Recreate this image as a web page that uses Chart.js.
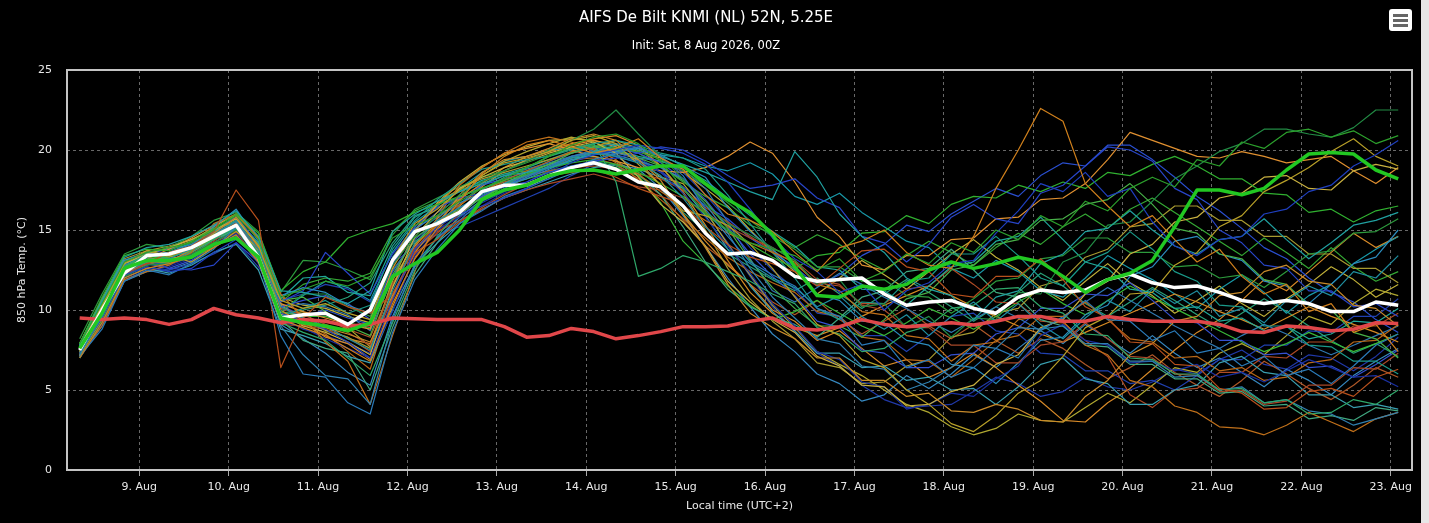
<!DOCTYPE html>
<html>
<head>
<meta charset="utf-8">
<script src="https://cdn.jsdelivr.net/npm/chart.js@4.4.1/dist/chart.umd.min.js"></script>
<style>
html, body { margin: 0; padding: 0; background: #000; overflow: hidden; }
#wrap { position: relative; width: 1429px; height: 523px; }
#strip { position: absolute; left: 1421px; top: 0; width: 8px; height: 523px; background: #e6e6e6; }
</style>
</head>
<body>
<div id="wrap">
  <canvas id="chart" width="1429" height="523"></canvas>
  <div id="strip"></div>
</div>
<script>
// =========================================
// Data (850 hPa temperature, 6-hourly, first step 8 Aug 08:00 local)
// =========================================

const startHour = 8;     // hours after 8 Aug 00:00 local
const stepHours = 6;

const dayLabels = ["9. Aug","10. Aug","11. Aug","12. Aug","13. Aug","14. Aug","15. Aug",
  "16. Aug","17. Aug","18. Aug","19. Aug","20. Aug","21. Aug","22. Aug","23. Aug"];
const dayTicks = [24,48,72,96,120,144,168,192,216,240,264,288,312,336,360];

const yTicks = [0,5,10,15,20,25];

// thick lines
const detRun = [
  7.6, 9.8, 12.6, 13.1, 13.1, 13.3, 14.1, 14.5, 13.3, 9.5, 9.2, 9.0, 8.7, 9.2, 12.1, 12.9,
  13.6, 15.0, 16.9, 17.5, 17.8, 18.4, 18.7, 18.75, 18.5, 18.75, 19.0, 19.0, 17.9, 16.9, 16.1, 14.7,
  12.7, 10.9, 10.8, 11.5, 11.3, 11.6, 12.5, 13.0, 12.6, 12.9, 13.3, 13.0, 12.1, 11.1, 11.9, 12.3,
  13.1, 15.2, 17.5, 17.5, 17.2, 17.6, 18.75, 19.75, 19.85, 19.75, 18.75, 18.2
];
const controlRun = [
  7.5, 10.0, 12.3, 13.4, 13.5, 13.9, 14.6, 15.3, 13.3, 9.5, 9.7, 9.8, 9.1, 10.0, 13.1, 14.9,
  15.4, 16.1, 17.4, 17.8, 17.8, 18.4, 18.9, 19.2, 18.8, 18.0, 17.7, 16.5, 14.8, 13.5, 13.6, 13.1,
  12.1, 11.8, 11.9, 12.0, 11.0, 10.3, 10.5, 10.6, 10.1, 9.8, 10.8, 11.25, 11.1, 11.25, 11.9, 12.25,
  11.7, 11.4, 11.5, 11.1, 10.6, 10.4, 10.6, 10.4, 9.9, 9.9, 10.5, 10.3
];
const climate = [
  9.5, 9.4, 9.5, 9.4, 9.1, 9.4, 10.1, 9.7, 9.5, 9.2, 9.4, 9.3, 9.0, 9.1, 9.5, 9.45,
  9.4, 9.4, 9.4, 8.96, 8.3, 8.4, 8.85, 8.65, 8.2, 8.4, 8.65, 8.96, 8.96, 9.0, 9.3, 9.5,
  8.85, 8.75, 8.96, 9.4, 9.1, 8.96, 9.06, 9.2, 9.06, 9.3, 9.6, 9.6, 9.3, 9.3, 9.6, 9.4,
  9.3, 9.3, 9.3, 9.1, 8.65, 8.6, 9.0, 8.9, 8.7, 8.8, 9.2, 9.15
];

// ensemble members
const m01 = [7.2, 9.6, 12.4, 13.0, 13.2, 13.8, 14.6, 15.6, 13.8, 10.2, 9.5, 9.0, 8.2, 7.5, 11.2, 14.2,
  15.6, 16.4, 17.2, 17.9, 18.4, 18.9, 19.5, 19.8, 19.6, 19.2, 18.4, 17.0, 15.2, 13.8, 12.9, 12.0,
  11.4, 10.2, 10.9, 9.6, 8.8, 9.7, 8.4, 9.6, 10.5, 9.3, 10.4, 9.1, 8.2, 9.5, 10.6, 9.9,
  11.3, 10.4, 11.2, 9.6, 10.1, 9.2, 10.6, 11.5, 10.9, 12.4, 12.0, 13.4];
const m02 = [7.9, 10.4, 13.0, 13.6, 13.9, 14.2, 15.0, 15.9, 14.4, 10.8, 11.3, 11.8, 11.5, 12.1, 14.5, 15.3,
  15.9, 16.8, 17.6, 18.2, 18.9, 19.6, 20.3, 20.8, 21.0, 20.4, 19.3, 17.6, 16.1, 15.0, 14.2, 13.8,
  13.4, 12.5, 13.2, 11.8, 12.4, 13.5, 12.9, 14.2, 13.6, 15.0, 14.4, 15.9, 15.2, 16.8, 16.2, 17.6,
  18.3, 17.7, 19.4, 19.0, 20.5, 20.1, 21.1, 21.3, 20.8, 21.2, 20.4, 20.9];
const m03 = [7.0, 9.2, 12.0, 12.6, 12.9, 13.3, 13.9, 14.7, 13.0, 9.4, 8.9, 8.4, 7.6, 6.8, 10.4, 13.2,
  15.1, 16.8, 18.5, 19.6, 20.3, 20.6, 20.2, 19.8, 20.1, 20.7, 19.5, 18.8, 17.2, 16.0, 15.6, 14.9,
  13.6, 12.4, 13.9, 14.3, 15.0, 13.6, 12.8, 12.6, 14.6, 17.6, 20.0, 22.6, 21.8, 17.9, 16.5, 15.2,
  15.9, 14.4, 13.0, 13.8, 12.1, 11.0, 11.6, 9.9, 10.4, 8.6, 9.1, 7.4];
const m04 = [7.3, 9.5, 12.2, 12.7, 12.4, 12.6, 13.6, 14.4, 13.2, 9.8, 9.3, 8.8, 8.0, 7.0, 10.6, 13.8,
  15.2, 16.0, 16.5, 17.0, 17.6, 18.4, 19.2, 19.7, 20.0, 20.3, 20.1, 19.8, 19.1, 18.0, 16.3, 14.5,
  13.2, 12.4, 11.1, 11.6, 10.0, 11.2, 11.7, 12.9, 13.1, 14.8, 16.2, 17.9, 17.4, 18.6, 17.1, 17.6,
  15.5, 14.0, 13.4, 14.4, 14.6, 16.0, 16.3, 17.4, 17.8, 19.0, 19.7, 20.6];
const m05 = [7.1, 8.8, 11.8, 12.5, 12.2, 12.9, 13.8, 15.2, 13.1, 8.4, 6.0, 5.8, 4.2, 3.5, 8.6, 11.9,
  13.8, 15.4, 16.2, 17.1, 17.6, 18.2, 18.8, 19.4, 19.8, 20.2, 19.6, 18.4, 16.3, 14.6, 13.0, 12.2,
  11.5, 10.1, 9.6, 7.8, 8.1, 6.4, 6.9, 5.8, 6.4, 7.6, 7.0, 8.8, 9.5, 10.6, 9.4, 9.3,
  8.1, 8.7, 7.3, 7.6, 6.5, 7.1, 5.9, 6.3, 5.4, 6.5, 7.8, 8.5];
const m06 = [7.4, 10.2, 12.9, 13.7, 13.4, 13.0, 13.9, 14.9, 13.9, 10.6, 10.1, 10.4, 9.8, 9.4, 13.2, 15.4,
  16.3, 17.5, 18.4, 19.2, 19.5, 19.9, 20.6, 20.9, 20.4, 19.1, 17.8, 16.2, 15.9, 15.3, 14.1, 12.6,
  10.8, 9.1, 8.4, 6.9, 6.4, 5.0, 4.1, 2.9, 2.4, 3.4, 4.8, 5.6, 7.1, 8.9, 9.6, 11.0,
  11.1, 12.8, 13.6, 15.2, 15.9, 17.4, 18.1, 18.9, 19.9, 20.7, 19.6, 19.0];
const m07 = [7.6, 10.1, 12.5, 12.9, 13.6, 14.0, 14.9, 17.5, 15.6, 6.4, 9.5, 10.8, 10.2, 9.8, 11.0, 13.6,
  14.4, 15.5, 16.4, 17.2, 17.9, 18.4, 18.6, 18.8, 18.3, 17.6, 17.1, 16.6, 15.2, 14.1, 13.3, 12.9,
  12.4, 11.5, 12.6, 13.7, 13.8, 12.7, 12.4, 11.0, 10.8, 12.1, 12.1, 13.2, 11.9, 10.2, 9.5, 8.0,
  7.9, 6.6, 6.5, 5.1, 4.8, 3.8, 3.9, 4.9, 5.1, 4.6, 5.8, 6.3];
const m08 = [7.8, 10.6, 13.3, 13.9, 14.1, 14.6, 15.3, 16.2, 14.6, 11.2, 11.1, 10.8, 10.4, 11.2, 14.9, 16.0,
  16.8, 17.4, 17.9, 18.4, 18.6, 18.9, 19.3, 19.9, 20.3, 20.0, 19.6, 19.1, 18.6, 18.0, 17.4, 16.9,
  19.9, 18.3, 16.0, 14.6, 13.6, 12.0, 11.3, 10.9, 9.4, 10.8, 11.2, 12.9, 13.5, 14.9, 15.1, 16.2,
  15.0, 14.0, 13.5, 14.4, 14.6, 15.7, 14.4, 13.2, 14.2, 15.3, 15.6, 16.1];
const m09 = [7.0, 9.3, 12.1, 12.8, 12.9, 13.5, 14.2, 15.0, 13.4, 9.9, 11.0, 11.0, 10.2, 9.6, 12.8, 14.6,
  15.9, 17.2, 18.0, 18.7, 19.3, 20.0, 20.6, 21.3, 22.5, 21.0, 19.6, 18.2, 16.6, 15.4, 14.7, 13.9,
  13.1, 11.6, 11.9, 10.2, 10.4, 8.9, 9.6, 8.3, 9.5, 9.4, 11.1, 11.0, 13.0, 13.6, 15.3, 15.5,
  16.8, 18.2, 19.0, 19.9, 20.4, 21.3, 21.3, 21.0, 20.8, 21.4, 22.5, 22.5];
const m10 = [7.3, 9.9, 12.7, 13.5, 13.2, 13.4, 14.4, 15.2, 13.6, 9.2, 8.6, 8.1, 7.0, 5.9, 9.2, 12.5,
  14.6, 16.2, 17.5, 18.3, 18.9, 19.6, 20.1, 20.4, 18.0, 12.1, 12.6, 13.4, 13.0, 12.4, 11.8, 11.0,
  10.4, 8.9, 8.5, 7.4, 7.6, 8.6, 9.0, 10.1, 10.3, 11.3, 11.4, 10.2, 9.8, 8.5, 8.4, 7.0,
  6.9, 6.0, 6.0, 5.0, 5.1, 4.2, 4.4, 3.5, 3.6, 4.4, 4.1, 5.0];
const m11 = [7.1, 9.4, 12.3, 13.0, 13.0, 13.8, 14.8, 15.8, 14.0, 10.0, 9.1, 8.9, 8.5, 8.0, 10.9, 13.6,
  15.3, 17.2, 18.6, 19.4, 19.6, 20.1, 20.7, 21.0, 20.6, 19.4, 18.1, 16.0, 13.9, 11.6, 9.8, 8.9,
  8.2, 7.0, 7.0, 5.6, 5.6, 4.6, 4.8, 3.7, 3.6, 4.1, 3.8, 3.1, 3.0, 4.6, 5.6, 7.2,
  7.9, 9.3, 9.6, 10.9, 11.1, 12.4, 12.8, 11.8, 11.6, 10.3, 10.1, 9.0];
const m12 = [7.5, 9.7, 12.4, 13.2, 12.6, 12.5, 12.8, 14.2, 13.0, 10.5, 11.2, 13.6, 12.3, 11.0, 13.5, 15.2,
  16.4, 17.0, 17.3, 17.7, 18.0, 18.6, 19.0, 19.3, 19.5, 19.8, 20.2, 20.0, 19.3, 18.4, 17.6, 17.8,
  18.2, 17.0, 16.4, 14.6, 14.2, 13.0, 14.1, 15.8, 16.6, 15.7, 15.4, 17.3, 17.8, 19.0, 20.2, 20.0,
  19.3, 17.6, 16.9, 15.0, 14.2, 12.8, 12.6, 11.2, 11.2, 10.2, 10.4, 9.6];
const m13 = [7.6, 10.0, 12.8, 13.4, 13.6, 14.1, 14.8, 15.5, 13.6, 9.0, 7.2, 5.9, 5.7, 4.1, 9.4, 12.9,
  14.5, 15.6, 16.8, 17.6, 18.3, 19.0, 19.6, 19.9, 19.7, 19.3, 18.9, 18.2, 16.6, 14.8, 12.6, 10.8,
  9.5, 8.2, 7.9, 6.5, 6.3, 5.0, 5.5, 6.4, 7.8, 7.6, 8.9, 8.8, 9.0, 7.9, 7.9, 6.8,
  6.8, 5.8, 5.9, 5.0, 5.2, 4.2, 4.4, 3.7, 3.5, 2.8, 3.2, 3.6];
const m14 = [7.9, 10.8, 13.4, 13.8, 13.7, 14.3, 15.1, 16.0, 14.8, 11.2, 12.4, 13.0, 14.5, 15.0, 15.4, 16.1,
  16.6, 17.1, 17.6, 18.1, 18.5, 18.9, 19.2, 19.4, 19.1, 18.6, 17.9, 17.1, 16.0, 14.9, 14.1, 13.3,
  12.6, 13.4, 13.6, 14.8, 14.9, 15.9, 15.4, 16.6, 17.1, 17.0, 17.8, 17.4, 18.0, 17.6, 18.6, 18.4,
  19.1, 19.6, 19.0, 18.2, 18.2, 17.3, 17.2, 16.1, 16.3, 15.5, 16.2, 16.5];
const m15 = [7.2, 9.0, 11.9, 12.4, 12.8, 13.6, 15.4, 16.0, 14.5, 11.0, 9.5, 8.0, 6.8, 4.1, 8.4, 12.4,
  15.8, 17.8, 18.9, 19.8, 20.5, 20.8, 20.5, 20.0, 19.2, 18.5, 17.4, 16.5, 15.6, 14.8, 14.2, 13.6,
  13.0, 11.6, 11.2, 9.9, 9.7, 8.4, 8.2, 6.8, 7.8, 8.0, 9.4, 9.6, 9.3, 7.8, 7.2, 5.6,
  5.2, 4.0, 3.6, 2.7, 2.6, 2.2, 2.8, 3.6, 3.0, 2.4, 3.2, 3.6];
const m16 = [7.4, 9.8, 12.6, 13.3, 13.5, 14.0, 14.5, 15.1, 13.2, 9.6, 10.1, 10.6, 9.8, 10.3, 13.8, 15.6,
  16.9, 17.9, 18.8, 19.1, 19.4, 19.6, 20.0, 20.4, 20.6, 20.3, 19.8, 19.5, 18.8, 17.2, 15.4, 13.6,
  12.0, 10.1, 9.4, 10.5, 10.4, 11.8, 12.0, 13.5, 13.5, 14.6, 13.4, 12.0, 11.5, 13.0, 13.6, 14.9,
  13.8, 12.4, 11.8, 10.3, 10.2, 9.0, 9.0, 7.8, 7.7, 6.8, 6.8, 6.0];
const m17 = [7.7, 10.3, 12.9, 13.5, 13.9, 14.4, 15.0, 15.7, 14.0, 9.8, 9.0, 8.6, 8.0, 7.2, 11.4, 14.6,
  16.1, 17.6, 18.3, 18.9, 19.3, 19.8, 20.2, 20.5, 19.8, 18.3, 16.6, 15.5, 14.0, 11.8, 10.5, 9.4,
  8.6, 7.1, 6.5, 5.3, 5.2, 4.0, 4.1, 4.9, 5.3, 6.6, 7.2, 8.9, 9.4, 11.0, 11.8, 13.5,
  14.1, 15.5, 15.8, 17.0, 17.3, 18.3, 18.4, 17.6, 17.5, 18.7, 19.1, 18.8];
const m18 = [7.0, 9.1, 11.9, 12.5, 12.7, 13.2, 14.0, 14.8, 12.9, 9.3, 8.9, 8.2, 7.6, 7.0, 9.9, 13.4,
  15.0, 15.8, 16.5, 17.3, 17.8, 18.2, 18.9, 19.3, 19.5, 19.3, 18.6, 17.3, 15.8, 14.0, 12.3, 10.4,
  9.0, 7.4, 6.9, 5.5, 5.2, 3.8, 4.1, 4.8, 4.6, 5.7, 6.5, 8.4, 9.1, 8.1, 7.8, 6.7,
  6.8, 6.2, 6.6, 5.8, 6.1, 5.5, 6.2, 6.9, 6.4, 5.8, 5.9, 5.2];
const m19 = [7.5, 10.1, 12.8, 13.1, 13.3, 13.7, 14.7, 15.6, 14.1, 10.6, 10.8, 9.9, 9.0, 8.4, 12.2, 14.5,
  15.5, 16.3, 17.0, 17.8, 18.5, 19.1, 19.8, 20.2, 20.0, 19.5, 19.0, 18.1, 16.8, 15.1, 13.1, 11.4,
  10.1, 9.0, 9.0, 8.3, 9.4, 10.7, 11.1, 12.5, 12.8, 14.1, 14.4, 15.6, 15.7, 16.6, 16.9, 17.9,
  16.6, 15.1, 14.8, 13.5, 13.2, 11.9, 11.6, 10.3, 10.0, 8.6, 8.2, 7.0];
const m20 = [7.3, 9.6, 12.2, 12.9, 13.1, 13.5, 14.3, 15.4, 13.9, 10.1, 9.7, 9.1, 8.6, 7.8, 11.6, 13.9,
  14.9, 15.6, 16.3, 17.0, 17.5, 17.9, 18.2, 18.5, 18.1, 17.7, 17.5, 17.0, 16.1, 15.2, 14.5, 13.9,
  13.1, 11.9, 11.6, 10.3, 10.0, 8.9, 8.9, 7.8, 7.8, 6.7, 6.7, 7.8, 8.0, 9.2, 8.2, 7.1,
  7.0, 6.0, 5.9, 4.9, 5.0, 4.1, 4.3, 5.3, 5.3, 6.4, 6.3, 7.3];
const m21 = [7.8, 10.5, 13.1, 13.6, 13.5, 14.0, 15.2, 16.3, 14.3, 10.9, 11.4, 11.1, 10.3, 9.8, 13.3, 15.1,
  15.9, 16.7, 17.3, 17.8, 18.2, 18.8, 19.4, 19.7, 19.9, 20.1, 19.7, 19.0, 18.3, 16.4, 14.9, 13.8,
  12.5, 11.0, 10.6, 9.3, 9.2, 8.1, 7.8, 6.6, 6.4, 5.4, 6.7, 8.1, 8.3, 9.7, 10.3, 12.1,
  12.7, 14.3, 14.6, 13.5, 13.1, 11.8, 11.5, 10.4, 11.6, 12.9, 13.3, 15.0];
const m22 = [7.6, 10.2, 12.6, 13.2, 13.8, 14.5, 15.3, 15.9, 14.6, 10.4, 9.9, 9.5, 9.1, 8.8, 12.6, 15.0,
  16.6, 17.9, 18.9, 19.8, 20.1, 20.4, 20.0, 19.6, 19.3, 18.9, 18.7, 18.6, 18.9, 19.6, 20.5, 19.8,
  18.0, 15.8, 14.6, 12.8, 12.5, 13.4, 13.4, 14.4, 14.5, 15.7, 15.8, 16.9, 17.0, 17.9, 19.4, 21.1,
  20.6, 20.1, 19.6, 19.5, 19.9, 19.6, 19.2, 19.4, 19.6, 18.7, 17.9, 18.9];
const m23 = [7.1, 9.3, 12.0, 12.6, 12.3, 12.8, 13.6, 14.1, 12.5, 8.8, 8.4, 7.9, 7.1, 6.7, 10.0, 12.8,
  14.2, 15.4, 16.3, 17.0, 17.5, 18.0, 18.5, 18.9, 19.1, 18.8, 18.3, 17.6, 15.9, 13.8, 11.5, 9.9,
  8.7, 7.3, 7.3, 6.4, 6.5, 5.6, 5.8, 5.0, 5.1, 4.1, 5.2, 6.6, 7.0, 5.7, 5.4, 4.1,
  4.1, 5.0, 5.3, 6.7, 7.1, 6.1, 5.9, 4.7, 4.7, 3.9, 4.1, 3.8];
const m24 = [8.2, 11.0, 13.5, 14.1, 13.9, 14.6, 15.6, 16.1, 14.9, 11.1, 13.1, 13.0, 12.5, 11.9, 14.7, 16.3,
  17.0, 17.7, 18.3, 18.7, 19.2, 19.7, 20.1, 20.3, 20.1, 19.9, 19.4, 18.7, 17.8, 16.7, 15.6, 14.6,
  13.8, 12.7, 12.7, 11.8, 11.9, 10.9, 10.8, 9.8, 10.7, 11.8, 12.0, 13.2, 13.4, 14.5, 14.5, 13.6,
  13.6, 12.7, 12.8, 12.0, 12.2, 11.4, 12.4, 13.5, 13.7, 14.8, 14.9, 15.7];
const m25 = [7.4, 9.9, 12.5, 13.0, 13.3, 13.9, 14.6, 15.3, 13.8, 9.7, 9.2, 8.5, 7.4, 6.3, 10.7, 13.8,
  15.4, 16.6, 17.4, 18.1, 18.7, 19.3, 19.9, 20.1, 19.4, 18.1, 16.9, 15.7, 14.5, 13.3, 12.4, 11.7,
  11.1, 9.9, 9.6, 8.3, 8.1, 6.9, 6.8, 5.8, 6.9, 8.1, 8.4, 9.6, 9.6, 10.5, 9.4, 8.2,
  8.0, 7.0, 7.1, 6.2, 6.4, 5.6, 5.8, 6.7, 6.9, 8.0, 8.1, 9.1];
const m26 = [7.2, 9.5, 12.3, 12.9, 12.6, 13.1, 14.0, 14.6, 13.1, 10.2, 10.6, 10.9, 10.4, 9.4, 12.4, 14.4,
  15.6, 16.4, 17.1, 17.8, 18.3, 18.9, 19.6, 19.8, 20.1, 19.8, 19.2, 18.2, 16.9, 15.2, 13.5, 12.1,
  10.9, 9.3, 8.9, 7.5, 7.3, 6.4, 6.4, 7.2, 7.3, 8.5, 8.9, 10.1, 10.1, 11.0, 10.9, 11.7,
  10.6, 9.4, 9.2, 8.1, 8.1, 7.2, 7.3, 6.4, 6.5, 5.8, 6.6, 7.5];
const m27 = [7.9, 10.7, 13.2, 13.7, 14.0, 14.4, 15.1, 15.5, 13.9, 10.3, 9.4, 8.7, 8.3, 7.6, 11.8, 14.9,
  16.6, 17.6, 18.2, 18.6, 19.0, 19.4, 19.8, 20.2, 20.6, 20.1, 19.0, 17.3, 15.0, 12.6, 10.7, 9.3,
  8.2, 6.7, 6.4, 5.4, 5.5, 6.5, 6.9, 8.3, 8.6, 9.8, 10.1, 11.5, 11.9, 13.3, 13.8, 15.2,
  15.4, 16.5, 16.5, 15.6, 15.6, 14.6, 14.6, 13.5, 13.5, 12.6, 12.6, 11.7];
const m28 = [7.0, 9.2, 12.2, 12.9, 13.0, 13.6, 14.4, 15.0, 13.3, 9.4, 8.1, 7.6, 7.3, 5.0, 8.9, 12.2,
  14.2, 15.9, 17.1, 17.9, 18.6, 19.1, 19.5, 19.6, 19.3, 18.5, 17.2, 15.2, 13.0, 11.3, 10.2, 9.5,
  9.1, 8.3, 9.5, 10.8, 11.2, 12.4, 12.6, 13.8, 12.5, 11.1, 10.8, 9.4, 9.0, 7.8, 7.7, 6.6,
  6.6, 5.7, 5.7, 4.8, 4.9, 4.0, 4.1, 3.2, 3.4, 3.1, 3.9, 3.7];
const m29 = [7.6, 10.3, 12.9, 13.4, 13.6, 14.2, 14.9, 15.6, 14.2, 10.7, 12.0, 12.1, 11.1, 10.9, 14.0, 15.8,
  16.6, 17.4, 18.1, 18.5, 18.9, 19.4, 19.9, 20.3, 20.0, 19.6, 19.3, 18.9, 18.1, 17.0, 15.9, 14.9,
  14.0, 12.7, 12.5, 11.3, 11.2, 10.3, 11.5, 12.7, 13.0, 14.3, 14.6, 15.8, 14.4, 13.0, 12.6, 11.3,
  11.1, 10.1, 10.2, 9.3, 9.5, 8.7, 9.0, 8.2, 8.5, 9.3, 9.2, 10.1];
const m30 = [7.3, 9.7, 12.5, 13.1, 13.2, 13.5, 14.2, 14.9, 13.0, 9.1, 9.0, 8.8, 8.3, 7.4, 10.8, 13.5,
  14.8, 16.0, 17.1, 17.9, 18.4, 18.7, 18.9, 19.0, 18.8, 18.5, 18.2, 17.5, 16.4, 15.5, 14.6, 13.7,
  12.9, 11.7, 11.5, 10.4, 10.4, 11.3, 11.5, 12.6, 11.6, 10.5, 10.4, 9.3, 9.2, 8.1, 7.1, 4.7,
  3.9, 5.0, 5.1, 6.1, 6.1, 7.1, 7.0, 8.0, 8.0, 9.0, 9.0, 9.8];
const m31 = [7.7, 10.4, 12.8, 13.3, 13.4, 13.9, 14.4, 15.1, 13.4, 9.9, 9.6, 9.6, 9.2, 8.9, 12.5, 14.3,
  15.2, 16.1, 17.0, 17.7, 18.2, 18.6, 19.0, 19.2, 18.9, 18.4, 16.7, 14.3, 12.9, 11.5, 10.3, 9.4,
  9.9, 10.6, 9.8, 9.0, 8.4, 9.2, 10.1, 9.5, 8.8, 9.6, 10.5, 11.3, 10.4, 9.7, 10.6, 11.5,
  10.8, 10.1, 9.4, 8.7, 8.0, 7.4, 7.9, 8.6, 8.0, 7.4, 7.9, 8.5];
const m32 = [7.4, 9.9, 12.7, 13.2, 13.1, 13.6, 14.9, 15.9, 14.0, 10.1, 10.4, 10.2, 9.7, 8.7, 12.0, 14.8,
  15.8, 16.6, 17.8, 18.4, 18.8, 19.2, 19.6, 20.0, 19.8, 19.5, 19.3, 18.8, 17.6, 15.5, 13.2, 11.2,
  10.5, 11.4, 12.3, 11.6, 10.8, 10.1, 9.3, 8.6, 9.4, 10.2, 9.5, 8.7, 9.6, 10.5, 11.4, 10.6,
  9.8, 9.0, 8.3, 7.6, 8.4, 9.1, 8.5, 7.8, 7.2, 7.8, 8.4, 9.0];
const m33 = [7.5, 10.0, 12.4, 12.8, 13.3, 13.9, 14.7, 15.5, 13.7, 9.8, 9.3, 9.0, 8.2, 7.9, 11.6, 14.0,
  15.5, 16.9, 17.9, 18.9, 19.6, 20.0, 20.4, 20.7, 20.9, 20.3, 19.0, 17.4, 15.3, 13.1, 11.1, 9.8,
  8.9, 8.4, 8.9, 9.6, 10.3, 10.9, 11.5, 10.9, 10.2, 9.6, 9.0, 8.5, 8.0, 8.6, 9.2, 9.8,
  10.4, 11.0, 10.5, 9.9, 9.4, 8.8, 9.5, 10.2, 9.6, 9.1, 8.6, 8.0];
const m34 = [7.1, 9.4, 12.1, 12.7, 12.5, 12.9, 13.5, 14.2, 12.7, 10.6, 11.0, 11.6, 11.3, 10.5, 12.9, 14.0,
  14.7, 15.2, 15.8, 16.4, 17.0, 17.6, 18.4, 19.1, 19.9, 20.2, 19.6, 18.6, 17.2, 15.6, 13.9, 12.5,
  11.3, 9.8, 9.6, 8.4, 8.4, 7.4, 8.4, 9.6, 9.8, 8.7, 8.5, 7.3, 7.2, 6.2, 6.2, 5.4,
  5.6, 5.0, 5.9, 6.9, 6.9, 7.8, 7.8, 8.7, 8.6, 9.6, 9.6, 10.7];
const m35 = [7.5, 10.1, 12.7, 13.3, 13.0, 13.7, 14.5, 15.4, 13.9, 9.7, 9.9, 8.7, 8.9, 7.7, 11.9, 14.1,
  15.7, 17.0, 18.4, 19.3, 19.9, 20.4, 20.8, 20.5, 19.9, 19.4, 18.3, 17.9, 16.2, 14.1, 12.2, 10.3,
  8.9, 7.4, 6.6, 5.9, 5.0, 4.1, 3.6, 2.7, 2.2, 2.6, 3.5, 3.1, 3.0, 3.9, 4.8, 4.2,
  5.3, 6.4, 6.1, 7.3, 7.9, 7.2, 8.4, 9.6, 9.1, 10.4, 11.3, 10.9];
const m36 = [7.3, 9.8, 12.6, 13.0, 12.9, 13.4, 14.2, 15.1, 13.5, 9.9, 10.9, 11.8, 11.4, 10.6, 13.6, 15.5,
  16.5, 17.6, 18.6, 19.3, 19.6, 20.0, 20.1, 20.2, 20.4, 20.1, 19.7, 19.5, 19.0, 18.7, 19.2, 18.5,
  17.1, 16.6, 17.3, 16.1, 15.2, 14.3, 13.9, 12.6, 12.0, 13.1, 12.4, 11.2, 10.8, 12.0, 13.4, 12.6,
  11.9, 11.0, 10.1, 11.3, 12.2, 11.1, 9.8, 10.9, 11.6, 12.9, 13.8, 14.6];
const m37 = [7.8, 10.4, 12.9, 13.5, 13.8, 14.1, 15.0, 15.8, 14.2, 10.3, 9.6, 10.0, 9.5, 9.1, 12.8, 15.0,
  16.1, 17.0, 17.8, 18.2, 18.6, 19.3, 19.8, 20.1, 20.0, 19.4, 18.6, 17.7, 16.5, 15.7, 14.5, 13.6,
  12.7, 11.5, 12.2, 13.4, 14.1, 15.3, 14.9, 16.0, 16.8, 17.6, 17.1, 18.4, 19.2, 19.0, 20.3, 20.3,
  19.4, 18.3, 17.1, 16.2, 15.1, 13.9, 13.2, 12.0, 11.1, 10.5, 9.4, 8.6];
const m38 = [7.2, 9.5, 12.2, 12.9, 13.4, 13.8, 14.9, 15.7, 14.1, 10.4, 9.3, 8.3, 7.9, 6.9, 10.2, 13.3,
  15.0, 16.5, 17.7, 18.7, 19.4, 19.9, 20.3, 20.6, 20.2, 19.3, 17.8, 16.0, 14.3, 12.8, 11.6, 10.0,
  9.3, 8.1, 8.7, 7.6, 6.5, 6.9, 5.8, 6.4, 7.3, 6.4, 5.3, 4.3, 3.1, 3.0, 4.2, 5.1,
  6.3, 7.5, 8.6, 9.4, 10.6, 11.9, 11.2, 12.4, 13.6, 14.8, 13.9, 14.6];
const m39 = [7.6, 10.0, 12.6, 13.2, 13.4, 13.7, 14.4, 15.3, 13.7, 10.5, 11.6, 12.0, 11.8, 12.3, 14.9, 16.2,
  16.8, 17.5, 18.0, 18.5, 18.7, 19.1, 19.5, 19.9, 20.2, 19.8, 19.0, 18.0, 17.1, 16.4, 15.3, 14.8,
  13.9, 14.7, 14.1, 13.2, 12.5, 13.4, 14.3, 13.6, 12.8, 13.9, 14.8, 14.1, 15.2, 16.0, 15.1, 16.3,
  17.0, 16.1, 15.2, 14.3, 13.4, 14.5, 13.6, 12.6, 13.9, 12.7, 11.8, 12.4];
const m40 = [7.4, 9.8, 12.3, 13.0, 13.1, 13.6, 14.4, 15.0, 13.5, 10.0, 9.0, 9.4, 8.8, 8.3, 11.5, 13.8,
  15.2, 16.3, 17.3, 18.0, 18.4, 18.9, 19.4, 19.5, 19.1, 18.2, 17.2, 15.6, 14.0, 12.9, 11.6, 10.5,
  9.7, 10.6, 9.4, 8.5, 9.3, 10.1, 9.0, 8.2, 9.1, 8.1, 7.3, 8.2, 7.6, 6.6, 5.7, 6.4,
  7.2, 6.1, 5.3, 4.6, 5.6, 6.8, 6.0, 5.1, 4.4, 5.3, 6.4, 5.8];
const m41 = [7.0, 9.0, 11.8, 12.4, 12.5, 13.0, 13.9, 14.7, 13.0, 9.1, 8.2, 7.3, 6.1, 5.3, 9.6, 12.7,
  14.5, 15.8, 16.9, 17.8, 18.4, 19.0, 19.5, 19.9, 19.6, 18.8, 17.6, 15.9, 14.0, 12.0, 10.2, 8.5,
  7.4, 6.0, 5.4, 4.3, 4.7, 5.9, 5.1, 6.0, 7.2, 6.4, 7.6, 8.7, 7.9, 9.1, 8.2, 7.3,
  8.4, 7.3, 6.4, 7.0, 6.1, 5.2, 6.3, 5.6, 4.7, 5.9, 6.8, 7.6];
const m42 = [7.7, 10.5, 13.0, 13.6, 13.8, 14.3, 15.2, 16.0, 14.5, 10.8, 10.3, 10.1, 9.6, 9.2, 13.0, 15.2,
  16.7, 18.0, 19.0, 19.7, 20.2, 20.6, 20.7, 20.6, 20.3, 19.9, 19.5, 18.6, 17.6, 16.5, 15.0, 13.6,
  12.4, 11.0, 12.0, 13.1, 12.2, 11.3, 12.4, 13.5, 14.4, 13.3, 12.5, 11.4, 10.6, 11.8, 12.9, 11.7,
  10.9, 9.8, 10.6, 11.5, 10.4, 9.6, 10.7, 11.6, 12.7, 11.9, 10.8, 11.6];
const m43 = [7.9, 10.6, 13.1, 13.5, 13.4, 14.0, 14.7, 15.3, 13.6, 9.8, 10.0, 10.3, 10.8, 11.7, 14.2, 15.9,
  16.4, 17.1, 17.6, 18.0, 18.4, 18.7, 19.0, 19.3, 19.0, 18.4, 17.6, 16.1, 14.9, 13.5, 12.7, 11.9,
  11.2, 12.0, 11.0, 10.1, 11.0, 11.9, 11.1, 10.2, 9.3, 10.2, 11.1, 12.3, 11.5, 10.4, 9.6, 10.5,
  11.4, 10.6, 9.7, 8.9, 9.8, 10.7, 9.9, 9.0, 8.1, 7.3, 7.9, 7.1];
const m44 = [7.5, 9.9, 12.5, 13.1, 12.8, 13.3, 14.1, 14.8, 13.2, 9.6, 8.8, 8.4, 7.9, 7.3, 11.0, 13.7,
  15.0, 15.9, 16.7, 17.4, 18.0, 18.7, 19.3, 19.8, 19.9, 19.5, 18.7, 17.6, 16.1, 14.2, 12.1, 10.2,
  8.6, 7.3, 6.5, 5.3, 4.4, 3.9, 4.0, 4.1, 4.9, 5.8, 5.4, 4.6, 4.9, 5.8, 5.2, 5.0,
  5.5, 6.3, 6.0, 6.9, 7.5, 6.6, 6.3, 7.2, 7.0, 6.2, 7.1, 8.3];

const members = [m01,m02,m03,m04,m05,m06,m07,m08,m09,m10,m11,m12,m13,m14,m15,m16,m17,m18,m19,m20,m21,m22,
  m23,m24,m25,m26,m27,m28,m29,m30,m31,m32,m33,m34,m35,m36,m37,m38,m39,m40,m41,m42,m43,m44];

const memberColors = ["#1f8fa0","#2ca02c","#d0801c","#1f3fbf","#2a7ab8","#b8a028","#b8501c","#20a0a0",
  "#228b44","#2fa86a","#c88a2a","#2845c8","#3080b0","#30b030","#c0701a","#1a9a8a","#c8b040",
  "#1a30a0","#48b048","#a84828","#2b8cbe","#e09030","#3a9fb0","#2c9a3c","#b86818","#3550d0",
  "#a89a30","#40a880","#20a898","#b04a24","#38b838","#2f78b0","#d68a22","#2040b0",
  "#b0a830","#1898a8","#2a4fd0","#d88a28","#34a834","#b05828","#3688c0","#c0b038","#28a078","#2038a8"];

// =========================================
// Helpers
// =========================================

const fontFamily = "'DejaVu Sans', sans-serif";
const textColor = "#e8e8e8";
const gridColor = "rgba(190,190,190,0.55)";

function toPoints(values){
  return values.map((v, i) => ({x: startHour + i * stepHours, y: v}));
}

// plot frame + export menu button
const frameAndMenu = {
  id: "frameAndMenu",
  beforeDatasetsDraw(chart){
    const {ctx, chartArea: a} = chart;
    ctx.save();
    ctx.strokeStyle = "#c4c4c4";
    ctx.lineWidth = 2;
    ctx.strokeRect(a.left, a.top, a.right - a.left, a.bottom - a.top);
    ctx.restore();
  },
  afterDraw(chart){
    const ctx = chart.ctx;
    ctx.save();
    ctx.fillStyle = "#ffffff";
    ctx.beginPath();
    ctx.roundRect(1389, 9, 23, 22, 3);
    ctx.fill();
    ctx.fillStyle = "#666666";
    [14, 19, 24].forEach(y => ctx.fillRect(1393, y, 15, 3));
    ctx.restore();
  }
};

// =========================================
// Chart
// =========================================

const datasets = [
  {label: "Deterministic", data: toPoints(detRun), borderColor: "#22c822", borderWidth: 3.5, order: 0},
  {label: "Control", data: toPoints(controlRun), borderColor: "#ffffff", borderWidth: 3.5, order: 1},
  {label: "Climate", data: toPoints(climate), borderColor: "#e0474a", borderWidth: 3.5, order: 2}
];

members.forEach((m, k) => {
  datasets.push({
    label: "Member " + (k + 1),
    data: toPoints(m),
    borderColor: memberColors[k],
    borderWidth: 1.2,
    order: 3
  });
});

new Chart(document.getElementById("chart"), {
  type: "line",
  data: {datasets: datasets},
  plugins: [frameAndMenu],
  options: {
    responsive: false,
    animation: false,
    layout: {padding: {left: 0, right: 17, top: 0, bottom: 0}},
    elements: {
      point: {radius: 0},
      line: {tension: 0, borderJoinStyle: "round", fill: false}
    },
    plugins: {
      legend: {display: false},
      tooltip: {enabled: false},
      title: {
        display: true,
        text: "AIFS De Bilt KNMI (NL) 52N, 5.25E",
        color: "#ffffff",
        font: {family: fontFamily, size: 15, weight: "normal"},
        padding: {top: 9, bottom: 12}
      },
      subtitle: {
        display: true,
        text: "Init: Sat, 8 Aug 2026, 00Z",
        color: "#ffffff",
        font: {family: fontFamily, size: 11.5},
        padding: {top: 0, bottom: 17.2}
      }
    },
    scales: {
      x: {
        type: "linear",
        min: 4.6,
        max: 365.7,
        afterBuildTicks: s => { s.ticks = dayTicks.map(v => ({value: v})); },
        afterFit: s => { s.height = 53; },
        ticks: {
          color: textColor,
          font: {family: fontFamily, size: 11},
          padding: 5,
          maxRotation: 0,
          autoSkip: false,
          callback: (v, i) => dayLabels[i]
        },
        grid: {color: gridColor, tickLength: 6, tickColor: "#aaaaaa", tickBorderDash: [1, 0]},
        border: {display: false, dash: [3, 3]},
        title: {
          display: true,
          text: "Local time (UTC+2)",
          color: textColor,
          font: {family: fontFamily, size: 11},
          padding: {top: 0, bottom: 10}
        }
      },
      y: {
        min: 0,
        max: 25,
        afterBuildTicks: s => { s.ticks = yTicks.map(v => ({value: v})); },
        afterFit: s => { s.width = 67; },
        ticks: {
          color: textColor,
          font: {family: fontFamily, size: 11},
          padding: 15
        },
        grid: {color: gridColor, drawTicks: false},
        border: {display: false, dash: [3, 3]},
        title: {
          display: true,
          text: "850 hPa Temp. (°C)",
          color: textColor,
          font: {family: fontFamily, size: 11},
          padding: {top: 16, bottom: 0}
        }
      }
    }
  }
});
</script>
</body>
</html>
